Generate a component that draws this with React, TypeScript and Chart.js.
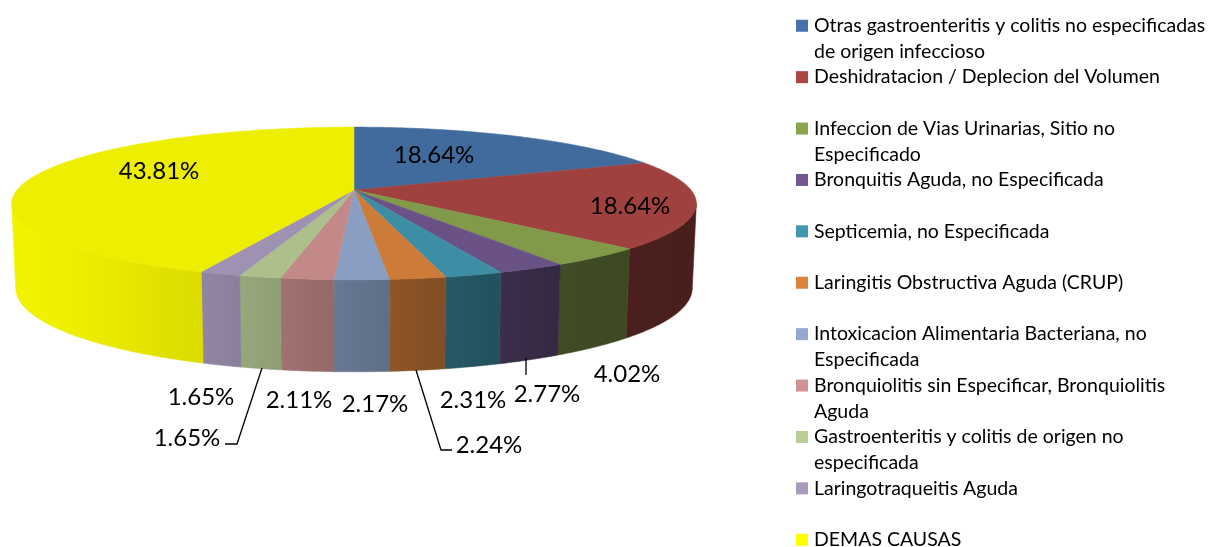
import React, { useEffect, useRef } from "react";
import { Chart, registerables } from "chart.js";

Chart.register(...registerables);

const categories: string[][] = [
  ["Otras gastroenteritis y colitis no especificadas", "de origen infeccioso"],
  ["Deshidratacion / Deplecion del Volumen", ""],
  ["Infeccion de Vias Urinarias, Sitio no", "Especificado"],
  ["Bronquitis Aguda, no Especificada", ""],
  ["Septicemia, no Especificada", ""],
  ["Laringitis Obstructiva Aguda (CRUP)", ""],
  ["Intoxicacion Alimentaria Bacteriana, no", "Especificada"],
  ["Bronquiolitis sin Especificar, Bronquiolitis", "Aguda"],
  ["Gastroenteritis y colitis de origen no", "especificada"],
  ["Laringotraqueitis Aguda", ""],
  ["DEMAS CAUSAS"],
];
const values = [18.64, 18.64, 4.02, 2.77, 2.31, 2.24, 2.17, 2.11, 1.65, 1.65, 43.81];
const colors = ["#4572A7", "#AA4643", "#89A54E", "#71588F", "#4198AF", "#DB843D", "#93A9CF", "#D19392", "#B9CD96", "#A99BBD", "#FFFF00"];

// label anchor (centre of text) per slice
const labelCenters: [number, number][] = [
  [434, 155], [630, 206], [627, 374], [547, 394], [473, 400], [489, 445],
  [375, 404], [299, 400], [187, 438], [201, 397], [159, 171],
];
const leaders: [number, number][][] = [
  [[526, 358], [526, 375]],
  [[416, 370], [441, 450], [452, 450]],
  [[262, 368], [237, 444], [225, 444]],
];

const CX = 354, CY = 190, RX = 337, SY = 74, K = 0.176;
const LEGEND_SIZE = 19.5;
const BOX = 24 - LEGEND_SIZE;

function project(theta: number): [number, number] {
  const u = Math.sin(theta), v = Math.cos(theta);
  const s = 1 / (1 + K * v);
  return [CX + RX * u * s, CY - SY * v * s];
}
function projectBottom(theta: number): [number, number] {
  const [x, y] = project(theta);
  const v = Math.cos(theta);
  return [CX + (x - CX) * 0.988, y + 83 - 9 * v];
}
function rgb(hex: string, f: number) {
  const n = parseInt(hex.slice(1), 16);
  const c = [(n >> 16) & 255, (n >> 8) & 255, n & 255].map((a) => Math.round(a * f));
  return `rgb(${c[0]},${c[1]},${c[2]})`;
}
function shade(x: number) {
  const pts = [[0, 0.95], [60, 0.94], [203, 0.86], [560, 0.46], [700, 0.43]];
  for (let i = 1; i < pts.length; i++) {
    if (x <= pts[i][0]) {
      const t = (x - pts[i - 1][0]) / (pts[i][0] - pts[i - 1][0]);
      return pts[i - 1][1] + t * (pts[i][1] - pts[i - 1][1]);
    }
  }
  return 0.43;
}

const pie3d = {
  id: "pie3d",
  afterLayout(chart: any) {
    const lg = chart.legend;
    lg.left = 796 + (12 - BOX) / 2;
    lg.right = 1211;
    lg.top = 16;
    lg.bottom = 560;
    // the box border reaches past the legend's left edge, so skip its clip
    lg.draw = () => lg._draw();
  },
  beforeDatasetsDraw(chart: any) {
    const ctx: CanvasRenderingContext2D = chart.ctx;
    const arcs = chart.getDatasetMeta(0).data;
    const lo = Math.acos(-K), hi = 2 * Math.PI - lo;
    ctx.save();
    arcs.forEach((arc: any, i: number) => {
      const a0 = Math.max(arc.startAngle + Math.PI / 2, lo);
      const a1 = Math.min(arc.endAngle + Math.PI / 2, hi);
      if (a1 <= a0) return;
      const n = Math.max(4, Math.ceil((a1 - a0) / 0.01));
      const top: [number, number][] = [], bot: [number, number][] = [];
      for (let j = 0; j <= n; j++) {
        const t = a0 + ((a1 - a0) * j) / n;
        top.push(project(t));
        bot.push(projectBottom(t));
      }
      const xs = top.map((p) => p[0]);
      const minX = Math.min(...xs), maxX = Math.max(...xs);
      const g = ctx.createLinearGradient(minX, 0, maxX, 0);
      for (let s = 0; s <= 6; s++) {
        const f = s / 6;
        g.addColorStop(f, rgb(colors[i], shade(minX + (maxX - minX) * f)));
      }
      ctx.beginPath();
      top.forEach((p, j) => (j ? ctx.lineTo(p[0], p[1]) : ctx.moveTo(p[0], p[1])));
      bot.reverse().forEach((p) => ctx.lineTo(p[0], p[1]));
      ctx.closePath();
      ctx.fillStyle = g;
      ctx.strokeStyle = g;
      ctx.lineWidth = 0.6;
      ctx.fill();
      ctx.stroke();
    });
    arcs.forEach((arc: any, i: number) => {
      const a0 = arc.startAngle + Math.PI / 2, a1 = arc.endAngle + Math.PI / 2;
      const n = Math.max(4, Math.ceil((a1 - a0) / 0.01));
      ctx.beginPath();
      ctx.moveTo(CX, CY);
      for (let j = 0; j <= n; j++) {
        const p = project(a0 + ((a1 - a0) * j) / n);
        ctx.lineTo(p[0], p[1]);
      }
      ctx.closePath();
      const c = rgb(colors[i], 0.935);
      ctx.fillStyle = c;
      ctx.strokeStyle = c;
      ctx.lineWidth = 0.5;
      ctx.fill();
      ctx.stroke();
    });
    ctx.restore();
    return false;
  },
  afterDraw(chart: any) {
    const ctx: CanvasRenderingContext2D = chart.ctx;
    ctx.save();
    ctx.strokeStyle = "#000";
    ctx.lineWidth = 1.3;
    leaders.forEach((line) => {
      ctx.beginPath();
      line.forEach((p, j) => (j ? ctx.lineTo(p[0], p[1]) : ctx.moveTo(p[0], p[1])));
      ctx.stroke();
    });
    ctx.fillStyle = "#000";
    ctx.font = "24px Lato";
    ctx.textAlign = "center";
    ctx.textBaseline = "middle";
    values.forEach((v, i) => {
      ctx.fillText(v.toFixed(2) + "%", labelCenters[i][0], labelCenters[i][1]);
    });
    ctx.restore();
  },
};

export default function App() {
  const ref = useRef<HTMLCanvasElement>(null);
  useEffect(() => {
    const chart = new Chart(ref.current!, {
      type: "pie",
      data: {
        labels: categories.map((c) => c.join(" ").trim()),
        datasets: [{ data: values, backgroundColor: colors, borderWidth: 0 }],
      },
      plugins: [pie3d],
      options: {
        animation: false,
        responsive: false,
        plugins: {
          tooltip: { enabled: false },
          legend: {
            position: "right",
            align: "start",
            labels: {
              color: "#000",
              padding: 0,
              boxWidth: BOX,
              boxHeight: BOX,
              font: { family: "Lato", size: LEGEND_SIZE, lineHeight: 25.7 / LEGEND_SIZE },
              generateLabels: () =>
                categories.map((c, i) => ({
                  text: c,
                  fillStyle: colors[i],
                  strokeStyle: colors[i],
                  lineWidth: 12 - BOX,
                  hidden: false,
                  index: i,
                })),
            },
          },
        },
      },
    } as any);
    return () => chart.destroy();
  }, []);
  return (
    <div style={{ position: "absolute", left: 0, top: 0, width: 1211, height: 547, background: "#fff" }}>
      <canvas ref={ref} width={1211} height={547} style={{ display: "block" }} />
    </div>
  );
}
